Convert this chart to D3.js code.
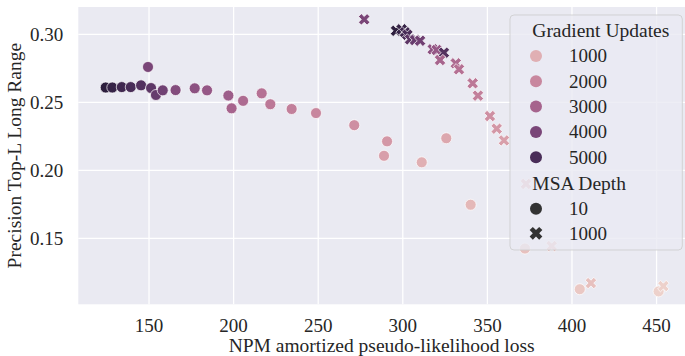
<!DOCTYPE html>
<html>
<head>
<meta charset="utf-8">
<script src="https://cdn.jsdelivr.net/npm/d3@7"></script>
<style>
  body { margin: 0; background: #ffffff; }
  text { font-family: "Liberation Serif", serif; fill: #262626; }
</style>
</head>
<body>
<div id="chart"></div>
<script>
// Data
// MSA depth 10 (circles)
var circleLoss = [124.4, 128.3, 133.9, 139.2, 145.3, 149.4, 151.2, 154.1, 158.1, 165.7,
                  177.0, 184.3, 196.9, 198.8, 205.6, 216.6, 221.7, 234.3, 248.7, 271.3,
                  290.7, 288.9, 325.7, 311.2, 340.1, 372.2, 404.6, 451.2];
var circlePrec = [0.2609, 0.2609, 0.2612, 0.2612, 0.2625, 0.2760, 0.2605, 0.2554, 0.2588, 0.2590,
                  0.2603, 0.2588, 0.2550, 0.2456, 0.2511, 0.2566, 0.2486, 0.2451, 0.2421, 0.2332,
                  0.2213, 0.2107, 0.2236, 0.2059, 0.1747, 0.1425, 0.1126, 0.1110];
var circleSteps = [5600, 5400, 5200, 5000, 4800, 4000, 4600, 4400, 4200, 3800,
                   3600, 3400, 3200, 3000, 2800, 2600, 2400, 2200, 2000, 1800,
                   1600, 1400, 1200, 1000, 800, 600, 400, 200];

// MSA depth 1000 (crosses)
var crossLoss = [277.2, 296.0, 299.3, 301.3, 302.7, 304.3, 307.2, 310.2, 317.7, 320.0,
                 324.3, 322.0, 331.3, 333.2, 341.3, 344.4, 351.5, 355.5, 359.8, 372.8,
                 388.0, 411.2, 454.0];
var crossPrec = [0.3110, 0.3026, 0.3037, 0.3015, 0.2997, 0.2963, 0.2958, 0.2953, 0.2890, 0.2885,
                 0.2865, 0.2811, 0.2787, 0.2743, 0.2640, 0.2549, 0.2399, 0.2306, 0.2220, 0.1900,
                 0.1443, 0.1171, 0.1149];
var crossSteps = [4000, 5600, 5400, 5200, 5000, 4600, 4400, 4200, 3600, 3400,
                  4800, 3000, 2800, 2600, 2400, 2200, 1800, 1600, 1400, 1000,
                  800, 600, 200];

var xTicks = [150, 200, 250, 300, 350, 400, 450];
var yTicks = [0.15, 0.20, 0.25, 0.30];
var hueLevels = [1000, 2000, 3000, 4000, 5000];
var depthLevels = ["10", "1000"];

var svgWidth = 685;
var svgHeight = 356;

// plot area in pixels
var plot = { left: 78.3, right: 685, top: 7, bottom: 304.3 };

var svg = d3.select("#chart")
  .append("svg")
  .attr("width", svgWidth)
  .attr("height", svgHeight);

var xScale = d3.scaleLinear()
  .domain([108.2, 466.8])
  .range([plot.left, plot.right]);

var yScale = d3.scaleLinear()
  .domain([0.1015, 0.3201])
  .range([plot.bottom, plot.top]);

// seaborn default cubehelix colormap (light -> dark)
function cubehelix(x) {
  var a = 0.8 * x * (1 - x) / 2;
  var phi = 2 * Math.PI * (0.4 * x);
  var c = Math.cos(phi), s = Math.sin(phi);
  var r = x + a * (-0.14861 * c + 1.78277 * s);
  var g = x + a * (-0.29227 * c - 0.90649 * s);
  var b = x + a * (1.97294 * c);
  var clamp = v => Math.max(0, Math.min(1, v)) * 255;
  return d3.rgb(clamp(r), clamp(g), clamp(b)).formatHex();
}

var allSteps = circleSteps.concat(crossSteps);
var hueScale = d3.scaleLinear()
  .domain([d3.min(allSteps), d3.max(allSteps)])
  .range([0.85, 0.15]);
var color = d => cubehelix(hueScale(d));

// filled X marker (matplotlib "X")
var plusPts = [[-1,-3],[1,-3],[1,-1],[3,-1],[3,1],[1,1],[1,3],[-1,3],[-1,1],[-3,1],[-3,-1],[-1,-1]];
function xPath(size) {
  var k = size / 6 / Math.SQRT2;
  return "M" + plusPts.map(p => [(p[0] - p[1]) * k, (p[0] + p[1]) * k].join(",")).join("L") + "Z";
}

var markerSize = 11;

// background
svg.append("rect")
  .attr("x", plot.left)
  .attr("y", plot.top)
  .attr("width", plot.right - plot.left)
  .attr("height", plot.bottom - plot.top)
  .attr("fill", "#EAEAF2");

// grid
svg.append("g").selectAll("line")
  .data(xTicks)
  .enter()
  .append("line")
  .attr("x1", d => xScale(d))
  .attr("x2", d => xScale(d))
  .attr("y1", plot.top)
  .attr("y2", plot.bottom)
  .attr("stroke", "white")
  .attr("stroke-width", 1.3);

svg.append("g").selectAll("line")
  .data(yTicks)
  .enter()
  .append("line")
  .attr("x1", plot.left)
  .attr("x2", plot.right)
  .attr("y1", d => yScale(d))
  .attr("y2", d => yScale(d))
  .attr("stroke", "white")
  .attr("stroke-width", 1.3);

// tick labels
svg.append("g").selectAll("text")
  .data(xTicks)
  .enter()
  .append("text")
  .attr("x", d => xScale(d))
  .attr("y", 331.7)
  .attr("text-anchor", "middle")
  .style("font-size", "19px")
  .text(d => d);

svg.append("g").selectAll("text")
  .data(yTicks)
  .enter()
  .append("text")
  .attr("x", 63.3)
  .attr("y", d => yScale(d) + 6.5)
  .attr("text-anchor", "end")
  .style("font-size", "19px")
  .text(d => d3.format(".2f")(d));

// axis labels
svg.append("text")
  .attr("x", (plot.left + plot.right) / 2)
  .attr("y", 351.5)
  .attr("text-anchor", "middle")
  .style("font-size", "19.5px")
  .text("NPM amortized pseudo-likelihood loss");

svg.append("text")
  .attr("transform", `translate(21, ${(plot.top + plot.bottom) / 2}) rotate(-90)`)
  .attr("text-anchor", "middle")
  .style("font-size", "19.5px")
  .text("Precision Top-L Long Range");

// points
var circles = circleLoss.map((d, i) => ({ loss: d, prec: circlePrec[i], steps: circleSteps[i] }));
var crosses = crossLoss.map((d, i) => ({ loss: d, prec: crossPrec[i], steps: crossSteps[i] }));

svg.append("g").selectAll("circle")
  .data(circles)
  .enter()
  .append("circle")
  .attr("cx", d => xScale(d.loss))
  .attr("cy", d => yScale(d.prec))
  .attr("r", markerSize / 2)
  .attr("fill", d => color(d.steps))
  .attr("stroke", "white")
  .attr("stroke-width", 0.7);

svg.append("g").selectAll("path")
  .data(crosses)
  .enter()
  .append("path")
  .attr("transform", d => `translate(${xScale(d.loss)}, ${yScale(d.prec)})`)
  .attr("d", xPath(markerSize * 1.1))
  .attr("fill", d => color(d.steps))
  .attr("stroke", "white")
  .attr("stroke-width", 0.7);

// legend
var legend = svg.append("g");
legend.append("rect")
  .attr("x", 510)
  .attr("y", 15)
  .attr("width", 172.3)
  .attr("height", 235)
  .attr("rx", 4)
  .attr("fill", "#EAEAF2")
  .attr("fill-opacity", 0.8)
  .attr("stroke", "#cccccc")
  .attr("stroke-opacity", 0.8);

legend.append("text")
  .attr("x", 532.3)
  .attr("y", 36.5)
  .style("font-size", "19.5px")
  .text("Gradient Updates");

var rowY = d3.scaleLinear().domain([0, 1]).range([56, 81.3]);

legend.selectAll(".hue")
  .data(hueLevels)
  .enter()
  .append("circle")
  .attr("cx", 536)
  .attr("cy", (d, i) => rowY(i))
  .attr("r", 6)
  .attr("fill", d => color(d));

legend.selectAll(".huelab")
  .data(hueLevels)
  .enter()
  .append("text")
  .attr("x", 569)
  .attr("y", (d, i) => rowY(i) + 6.3)
  .style("font-size", "19px")
  .text(d => d);

legend.append("text")
  .attr("x", 532.3)
  .attr("y", 189.5)
  .style("font-size", "19.5px")
  .text("MSA Depth");

legend.append("circle")
  .attr("cx", 536)
  .attr("cy", 208.7)
  .attr("r", 6)
  .attr("fill", "#333333");

legend.append("path")
  .attr("transform", "translate(536, 233.3)")
  .attr("d", xPath(13.5))
  .attr("fill", "#333333");

legend.selectAll(".depthlab")
  .data(depthLevels)
  .enter()
  .append("text")
  .attr("x", 569)
  .attr("y", (d, i) => 208.7 + i * 24.6 + 6.3)
  .style("font-size", "19px")
  .text(d => d);
</script>
</body>
</html>
